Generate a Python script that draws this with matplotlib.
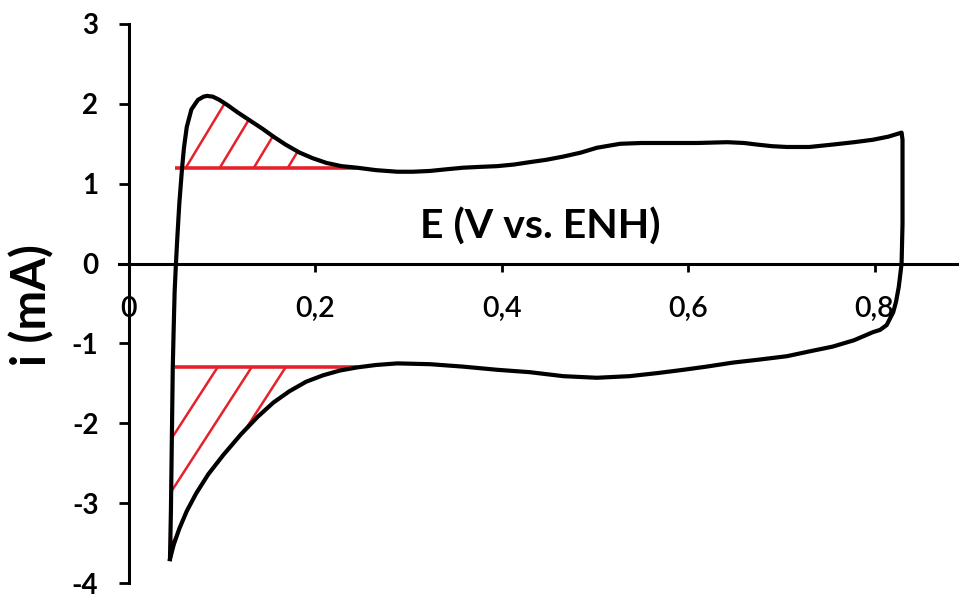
import matplotlib
matplotlib.use("Agg")
import matplotlib.pyplot as plt
from matplotlib.patches import Polygon
import numpy as np

plt.rcParams['font.family'] = ['Lato', 'DejaVu Sans']

# anodic sweep (left tip -> right vertex), E in V vs ENH, i in mA
E_anodic = [0.044, 0.045, 0.046, 0.047, 0.048, 0.049, 0.0504, 0.052, 0.054, 0.057,
            0.059, 0.062, 0.067, 0.074, 0.080, 0.0837, 0.090, 0.097, 0.105, 0.117,
            0.130, 0.143, 0.155, 0.168, 0.183, 0.197, 0.212, 0.228, 0.245, 0.265,
            0.288, 0.305, 0.323, 0.340, 0.358, 0.375, 0.395, 0.413, 0.430, 0.448,
            0.466, 0.485, 0.502, 0.527, 0.550, 0.577, 0.610, 0.642, 0.660, 0.674,
            0.690, 0.706, 0.730, 0.755, 0.778, 0.798, 0.815, 0.829]
i_anodic = [-3.70, -3.10, -2.20, -1.30, -0.80, -0.35, 0.00, 0.35, 0.75, 1.20,
            1.45, 1.71, 1.93, 2.05, 2.09, 2.10, 2.09, 2.05, 1.99, 1.89,
            1.79, 1.69, 1.59, 1.49, 1.39, 1.32, 1.26, 1.22, 1.20, 1.17,
            1.15, 1.15, 1.16, 1.18, 1.20, 1.21, 1.22, 1.24, 1.27, 1.30,
            1.34, 1.39, 1.45, 1.50, 1.51, 1.51, 1.51, 1.52, 1.51, 1.49,
            1.47, 1.46, 1.46, 1.49, 1.52, 1.55, 1.59, 1.64]

# cathodic sweep (right vertex -> left tip)
E_cathodic = [0.830, 0.830, 0.830, 0.829, 0.826, 0.823, 0.820, 0.813, 0.806, 0.798,
              0.778, 0.755, 0.730, 0.706, 0.678, 0.648, 0.620, 0.595, 0.568, 0.537,
              0.502, 0.466, 0.430, 0.395, 0.358, 0.323, 0.288, 0.265, 0.245, 0.226,
              0.208, 0.190, 0.172, 0.155, 0.138, 0.120, 0.101, 0.085, 0.072, 0.062,
              0.054, 0.048, 0.044]
i_cathodic = [1.55, 1.20, 0.50, 0.00, -0.29, -0.48, -0.61, -0.77, -0.83, -0.86,
              -0.96, -1.04, -1.10, -1.16, -1.20, -1.24, -1.29, -1.33, -1.37, -1.41,
              -1.43, -1.41, -1.36, -1.33, -1.29, -1.26, -1.25, -1.27, -1.30, -1.34,
              -1.40, -1.48, -1.60, -1.74, -1.92, -2.14, -2.40, -2.64, -2.88, -3.10,
              -3.32, -3.52, -3.70]

# H adsorption / desorption baselines
upper_base = 1.2
lower_base = -1.3
base_E = [0.049, 0.245]

x_ticks = [0, 0.2, 0.4, 0.6, 0.8]
x_labels = ['0', '0,2', '0,4', '0,6', '0,8']
y_ticks = [-4, -3, -2, -1, 0, 1, 2, 3]
y_labels = ['-4', '-3', '-2', '-1', '0', '1', '2', '3']

RED = '#e5222b'

fig = plt.figure(figsize=(9.59, 5.97), dpi=100)
ax = fig.add_axes([119 / 959, 14 / 597, 840 / 959, 559 / 597])
ax.set_xlim(-0.0107, 0.8906)
ax.set_ylim(-4, 3)

E_an = np.array(E_anodic)
i_an = np.array(i_anodic)
E_ca = np.array(E_cathodic)
i_ca = np.array(i_cathodic)

# hatched regions (clip paths)
m_up = (i_an >= upper_base) & (E_an <= 0.25)
up_poly = Polygon(np.column_stack([E_an[m_up], i_an[m_up]]), closed=True,
                  fill=False, edgecolor='none', transform=ax.transData)
m_lo_ca = (i_ca <= lower_base) & (E_ca <= 0.25)
m_lo_an = (i_an <= lower_base)
lo_pts = np.vstack([np.column_stack([E_ca[m_lo_ca], i_ca[m_lo_ca]]),
                    np.column_stack([E_an[m_lo_an], i_an[m_lo_an]])])
lo_poly = Polygon(lo_pts, closed=True, fill=False, edgecolor='none',
                  transform=ax.transData)
ax.add_patch(up_poly)
ax.add_patch(lo_poly)

px_ratio = 932 / 80  # pixel aspect (x px per V / y px per mA)
step = 0.0365
t = np.array([-0.2, 0.2])
for k in range(4):
    x0 = 0.061 + k * step
    ln, = ax.plot(x0 + t, upper_base + 1.66 * px_ratio * t, color=RED, lw=1.8,
                  zorder=2)
    ln.set_clip_path(up_poly)
for k in range(3):
    x0 = 0.095 + k * step
    ln, = ax.plot(x0 + t, lower_base + 1.55 * px_ratio * t, color=RED, lw=1.8,
                  zorder=2)
    ln.set_clip_path(lo_poly)

ax.plot(base_E, [upper_base, upper_base], color=RED, lw=2.6, zorder=3,
        solid_capstyle='butt')
ax.plot(base_E, [lower_base, lower_base], color=RED, lw=2.6, zorder=3,
        solid_capstyle='butt')

# CV loop
ax.plot(np.concatenate([E_an, E_ca]), np.concatenate([i_an, i_ca]),
        color='black', lw=3.0, zorder=4, solid_joinstyle='round')

# axes through origin
for s in ['top', 'right']:
    ax.spines[s].set_visible(False)
ax.spines['left'].set_position(('data', 0))
ax.spines['bottom'].set_position(('data', 0))
ax.spines['left'].set_linewidth(2.2)
ax.spines['bottom'].set_linewidth(2.2)
ax.spines['left'].set_zorder(5)

ax.set_xticks(x_ticks)
ax.set_xticklabels(x_labels)
ax.set_yticks(y_ticks)
ax.set_yticklabels(y_labels)
ax.tick_params(axis='x', direction='out', length=6, width=2.0, pad=17,
               labelsize=20.5)
ax.tick_params(axis='y', direction='out', length=7, width=2.0, pad=15,
               labelsize=20)
for lab in ax.get_xticklabels():
    lab.set_fontweight('semibold')
for lab in ax.get_yticklabels():
    lab.set_fontweight('bold')

fig.text(540 / 959, 1 - 227 / 597, 'E (V vs. ENH)', ha='center', va='center',
         fontsize=29.5, fontweight='bold')
fig.text(32 / 959, 1 - 305 / 597, 'i (mA)', rotation=90, ha='center',
         va='center', fontsize=34, fontweight='bold')

fig.savefig('out.png', dpi=100)
